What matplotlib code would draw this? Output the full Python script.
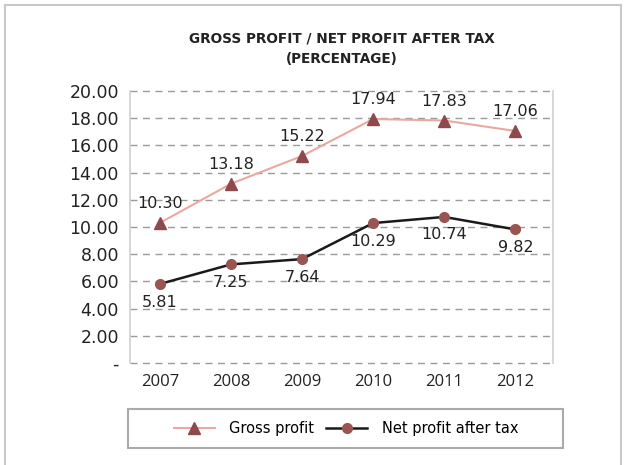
import matplotlib
matplotlib.use("Agg")
import matplotlib.pyplot as plt
from matplotlib.patches import Rectangle

years = ["2007", "2008", "2009", "2010", "2011", "2012"]
gross_profit = [10.30, 13.18, 15.22, 17.94, 17.83, 17.06]
net_profit = [5.81, 7.25, 7.64, 10.29, 10.74, 9.82]
y_ticks = [0, 2, 4, 6, 8, 10, 12, 14, 16, 18, 20]
y_tick_labels = ["-"] + ["%.2f" % v for v in y_ticks[1:]]

W, H = 626, 465
fig = plt.figure(figsize=(W / 100, H / 100), dpi=100)
fig.patch.set_facecolor("white")

# outer frame round the whole chart
fig.patches.append(Rectangle((5 / W, -0.05), 616 / W, 1 - 5 / H + 0.05,
                             transform=fig.transFigure, fill=False,
                             edgecolor="#c8c8c8", linewidth=1.5))

ax = fig.add_axes([130 / W, 1 - 363 / H, (553 - 130) / W, (363 - 91) / H])
x = list(range(len(years)))

ax.plot(x, gross_profit, color="#eaa8a0", linewidth=1.5, marker="^",
        markersize=9, markerfacecolor="#8e4a4a", markeredgecolor="#8e4a4a",
        label="Gross profit", zorder=3)
ax.plot(x, net_profit, color="#1a1a1a", linewidth=1.8, marker="o",
        markersize=7, markerfacecolor="#9a5550", markeredgecolor="#9a5550",
        label="Net profit after tax", zorder=3)

lbl_font = dict(family="DejaVu Sans", size=11.5, color="#222222")
for i, v in enumerate(gross_profit):
    ax.annotate("%.2f" % v, (i, v), xytext=(0, 14), textcoords="offset points",
                ha="center", va="center", **lbl_font)
for i, v in enumerate(net_profit):
    ax.annotate("%.2f" % v, (i, v), xytext=(0, -13), textcoords="offset points",
                ha="center", va="center", **lbl_font)

ax.set_xlim(-0.42, 5.53)
ax.set_ylim(0, 20)
ax.set_xticks(x)
ax.set_xticklabels(years, family="Open Sans", fontsize=12, color="#222222")
ax.set_yticks(y_ticks)
ax.set_yticklabels(y_tick_labels, family="DejaVu Sans", fontsize=12.5,
                   color="#222222")
ax.tick_params(length=0, pad=8)
ax.tick_params(axis="x", pad=8)

ax.yaxis.grid(True, linestyle=(0, (5, 4)), color="#9a9a9a", linewidth=1)
for gl in ax.get_ygridlines():
    gl.set_clip_on(False)
ax.set_axisbelow(True)
for side in ["top", "bottom"]:
    ax.spines[side].set_visible(False)
for side in ["left", "right"]:
    ax.spines[side].set_color("#d0d0d0")
    ax.spines[side].set_linewidth(1.2)

fig.text(342 / W, 1 - 38 / H, "GROSS PROFIT / NET PROFIT AFTER TAX",
         ha="center", va="center", family="Liberation Sans Narrow",
         weight="bold", fontsize=9.8, color="#222222")
fig.text(342 / W, 1 - 59 / H, "(PERCENTAGE)",
         ha="center", va="center", family="Liberation Sans Narrow",
         weight="bold", fontsize=9.8, color="#222222")

# legend box drawn separately, entries centred inside it
fig.patches.append(Rectangle((128 / W, 1 - 448 / H), 435 / W, 39 / H,
                             transform=fig.transFigure, fill=False,
                             edgecolor="#aaaaaa", linewidth=1.5))
leg = fig.legend(loc="center", bbox_to_anchor=(346 / W, 1 - 428.5 / H),
                 ncol=2, frameon=False,
                 prop=dict(family="DejaVu Sans", size=10.5),
                 handlelength=2.8, columnspacing=0.8, handletextpad=1.0)

fig.savefig("out.png", dpi=100)
